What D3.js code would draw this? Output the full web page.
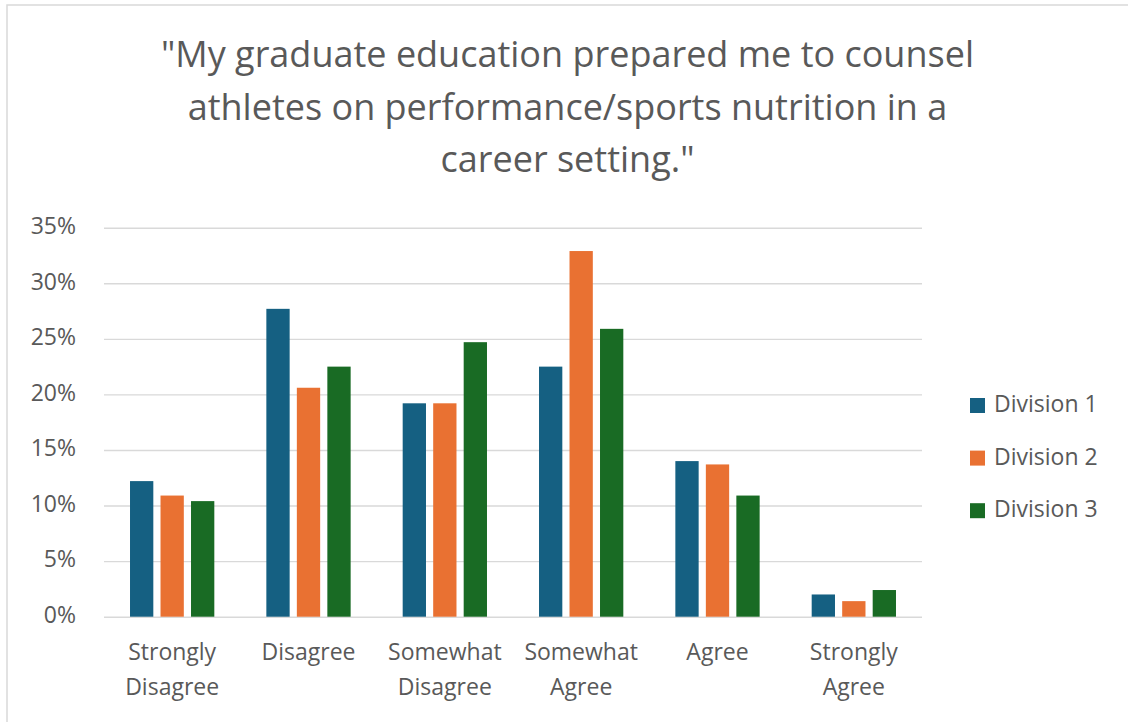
<!DOCTYPE html>
<html>
<head>
<meta charset="utf-8">
<script src="https://cdn.jsdelivr.net/npm/d3@7"></script>
<style>
  html, body { margin: 0; padding: 0; background: #fff; }
  svg { display: block; }
  text { font-family: "Open Sans", "Liberation Sans", Arial, sans-serif; fill: #595959; }
</style>
</head>
<body>
<svg id="chart" width="1128" height="722"></svg>
<script>
// Survey responses, share of respondents per division
const categories = [
  ["Strongly", "Disagree"],
  ["Disagree"],
  ["Somewhat", "Disagree"],
  ["Somewhat", "Agree"],
  ["Agree"],
  ["Strongly", "Agree"]
];
const seriesNames = ["Division 1", "Division 2", "Division 3"];
const division1 = [0.122, 0.277, 0.192, 0.225, 0.140, 0.020];
const division2 = [0.109, 0.206, 0.192, 0.329, 0.137, 0.014];
const division3 = [0.104, 0.225, 0.247, 0.259, 0.109, 0.024];
const yTicks = [0, 0.05, 0.10, 0.15, 0.20, 0.25, 0.30, 0.35];
const colors = ["#156082", "#E97132", "#196B24"];
const titleLines = [
  "\"My graduate education prepared me to counsel",
  "athletes on performance/sports nutrition in a",
  "career setting.\""
];

const seriesValues = [division1, division2, division3];
const catKeys = categories.map(c => c.join(" "));

const svg = d3.select("#chart");

// chart frame
svg.append("rect")
  .attr("x", 7).attr("y", 5)
  .attr("width", 1140).attr("height", 740)
  .attr("fill", "#fff")
  .attr("stroke", "#d9d9d9")
  .attr("stroke-width", 1.5);

// title
svg.append("text")
  .attr("text-anchor", "middle")
  .style("font-size", "36px")
  .selectAll("tspan")
  .data(titleLines)
  .join("tspan")
  .attr("x", 567.5)
  .attr("y", (d, i) => 67 + i * 52.5)
  .text(d => d);

const plot = { left: 104, right: 922, top: 227.7, bottom: 616.7 };

const x0 = d3.scaleBand()
  .domain(catKeys)
  .range([plot.left, plot.right])
  .paddingInner(0).paddingOuter(0);

const groupWidth = 84.3;
const x1 = d3.scaleBand()
  .domain(seriesNames)
  .range([(x0.bandwidth() - groupWidth) / 2, (x0.bandwidth() + groupWidth) / 2])
  .paddingInner(0.236).paddingOuter(0);

const y = d3.scaleLinear()
  .domain([0, 0.35])
  .range([plot.bottom, plot.top]);

// gridlines and y labels
const yAxis = svg.append("g")
  .attr("transform", `translate(${plot.left},0)`)
  .call(d3.axisLeft(y)
    .tickValues(yTicks)
    .tickFormat(d3.format(".0%"))
    .tickSize(-(plot.right - plot.left))
    .tickPadding(28));
yAxis.select(".domain").remove();
yAxis.selectAll(".tick line")
  .attr("stroke", "#d9d9d9")
  .attr("stroke-width", 1.4);
yAxis.selectAll(".tick text")
  .attr("dy", "0.25em")
  .style("font-size", "23px")
  .style("font-family", "\"Open Sans\", \"Liberation Sans\", Arial, sans-serif")
  .attr("fill", "#595959");

// bars
const groups = svg.append("g")
  .selectAll("g")
  .data(catKeys)
  .join("g")
  .attr("transform", d => `translate(${x0(d)},0)`);

groups.selectAll("rect")
  .data((d, ci) => seriesNames.map((s, si) => ({ s, si, v: seriesValues[si][ci] })))
  .join("rect")
  .attr("x", d => x1(d.s))
  .attr("width", x1.bandwidth())
  .attr("y", d => y(d.v))
  .attr("height", d => y(0) - y(d.v))
  .attr("fill", d => colors[d.si]);

// category labels
svg.append("g")
  .selectAll("text")
  .data(categories)
  .join("text")
  .attr("text-anchor", "middle")
  .style("font-size", "23px")
  .each(function (lines, i) {
    const cx = x0(catKeys[i]) + x0.bandwidth() / 2;
    d3.select(this).selectAll("tspan")
      .data(lines)
      .join("tspan")
      .attr("x", cx)
      .attr("y", (d, j) => 660 + j * 34.5)
      .text(d => d);
  });

// legend
const legend = svg.append("g")
  .selectAll("g")
  .data(seriesNames)
  .join("g")
  .attr("transform", (d, i) => `translate(970,${398 + i * 52.6})`);
legend.append("rect")
  .attr("width", 15).attr("height", 15)
  .attr("fill", (d, i) => colors[i]);
legend.append("text")
  .attr("x", 24)
  .attr("y", 14)
  .style("font-size", "23px")
  .text(d => d);
</script>
</body>
</html>
